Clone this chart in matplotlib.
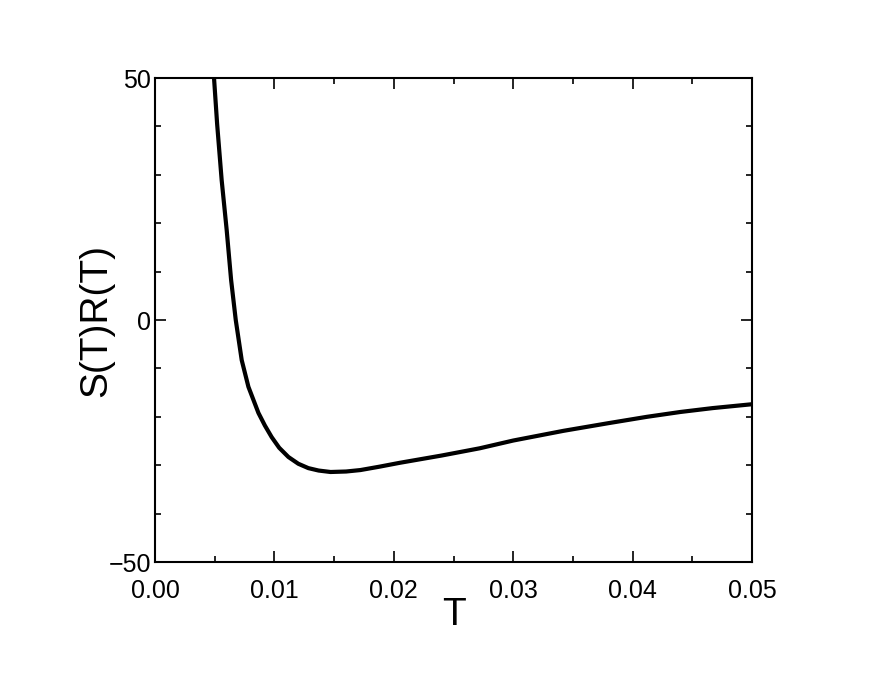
import numpy as np
import matplotlib
matplotlib.use("Agg")
import matplotlib.pyplot as plt
from matplotlib.ticker import MultipleLocator

# Du lieu doc tu hinh: nhiet do T va gia tri S(T)R(T)
T = [0.0047, 0.00494, 0.0052, 0.00558, 0.0060, 0.00637, 0.00676, 0.00726,
     0.00782, 0.00866, 0.0092, 0.00977, 0.0104, 0.01117, 0.0120, 0.01284,
     0.0137, 0.0147, 0.0160, 0.0172, 0.0188, 0.0205, 0.0240, 0.0272,
     0.0300, 0.0342, 0.0380, 0.0412, 0.0440, 0.0467, 0.0500]
SR = [55.0, 50.0, 40.5, 28.9, 18.6, 8.3, 0.0, -8.3,
      -13.8, -19.2, -21.8, -24.2, -26.4, -28.3, -29.7, -30.6,
      -31.1, -31.4, -31.3, -31.0, -30.3, -29.5, -28.0, -26.5,
      -24.9, -22.9, -21.3, -20.0, -19.0, -18.2, -17.4]

xticks = [0.00, 0.01, 0.02, 0.03, 0.04, 0.05]
xticklabels = ["0.00", "0.01", "0.02", "0.03", "0.04", "0.05"]
yticks = [-50, 0, 50]
yticklabels = ["\u221250", "0", "50"]

plt.rcParams['font.family'] = ['Liberation Sans', 'DejaVu Sans']

fig = plt.figure(figsize=(8.72, 6.73), dpi=100)
ax = fig.add_axes([0.1778, 0.1649, 0.6846, 0.7192])

ax.plot(T, SR, color="black", lw=3.0, solid_capstyle="butt",
        solid_joinstyle="round")

ax.set_xlim(0, 0.05)
ax.set_ylim(-50, 50)
ax.set_xticks(xticks)
ax.set_xticklabels(xticklabels)
ax.set_yticks(yticks)
ax.set_yticklabels(yticklabels)
ax.xaxis.set_minor_locator(MultipleLocator(0.005))
ax.yaxis.set_minor_locator(MultipleLocator(10))

ax.tick_params(which="both", direction="in", top=True, right=True,
               labelsize=18, width=1.2)
ax.tick_params(axis="x", pad=12)
ax.tick_params(axis="y", pad=3)
ax.tick_params(which="major", length=8)
ax.tick_params(which="minor", length=4)
for s in ax.spines.values():
    s.set_linewidth(1.5)

ax.set_xlabel("T", fontsize=28, labelpad=-4)
ax.set_ylabel("S(T)R(T)", fontsize=28, labelpad=-4)

fig.savefig("out.png", dpi=100)
